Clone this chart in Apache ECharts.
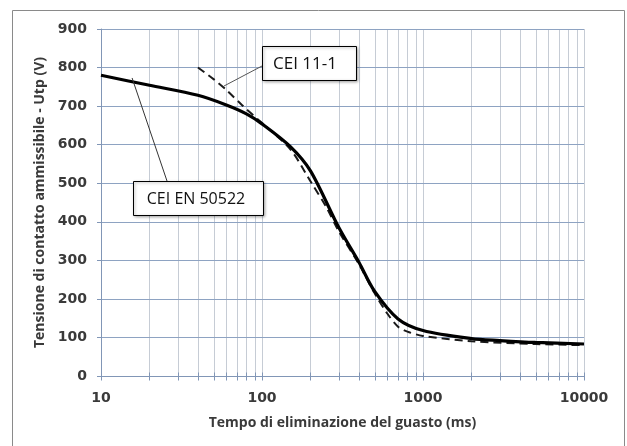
<!DOCTYPE html>
<html>
<head>
<meta charset="utf-8">
<script src="https://cdn.jsdelivr.net/npm/echarts@6/dist/echarts.min.js"></script>
<style>
html,body{margin:0;padding:0;background:#fff;}
#chart{width:627px;height:446px;}
</style>
</head>
<body>
<div id="chart"></div>
<script>
// ---- data ----
const timesEN = [10, 20, 40, 60, 80, 100, 150, 200, 300, 400, 500, 700, 1000, 2000, 3000, 5000, 10000];
const valuesEN = [780, 754, 728, 703, 680, 654, 595, 532, 385, 295, 220, 148, 118, 97, 92, 87, 83];
const timesCEI = [40, 50, 60, 75, 100, 150, 200, 250, 300, 400, 500, 600, 700, 800, 1000, 2000, 5000, 10000];
const valuesCEI = [800, 770, 742, 703, 656, 588, 505, 439, 375, 290, 215, 162, 128, 115, 104, 90, 83, 80];
const xTicks = [10,20,30,40,50,60,70,80,90,100,200,300,400,500,600,700,800,900,1000,2000,3000,4000,5000,6000,7000,8000,9000,10000];
const yTicks = [0,100,200,300,400,500,600,700,800,900];
const nameEN = 'CEI EN 50522';
const nameCEI = 'CEI 11-1';
const xTitle = 'Tempo di eliminazione del guasto (ms)';
const yTitle = 'Tensione di contatto ammissibile - Utp (V)';
// callout anchor points on curves (data coords)
const anchorEN = [15.6, 773];
const anchorCEI = [58, 752];

const chart = echarts.init(document.getElementById('chart'), null, {renderer:'canvas'});
const txt = '#3a3a3a';
const axisBlue = '#8196b6';
const option = {
  animation: false,
  grid: {left: 101, right: 43, top: 29, bottom: 70, containLabel: false},
  xAxis: {
    type: 'log', logBase: 10, min: 10, max: 10000,
    name: xTitle, nameLocation: 'middle', nameGap: 40,
    nameTextStyle: {fontFamily: 'Open Sans', fontWeight: 'bold', fontSize: 14, color: txt},
    axisLine: {show: true, onZero: false, lineStyle: {color: axisBlue, width: 1}},
    axisTick: {show: false},
    splitLine: {show: false},
    axisLabel: {fontFamily: 'DejaVu Sans', fontWeight: 'bold', fontSize: 14, color: txt, margin: 15,
      formatter: v => String(v)}
  },
  yAxis: {
    type: 'value', min: 0, max: 900, interval: 100,
    name: yTitle, nameLocation: 'middle', nameGap: 49,
    nameTextStyle: {fontFamily: 'Open Sans', fontWeight: 'bold', fontSize: 14, color: txt},
    axisLine: {show: true, lineStyle: {color: axisBlue, width: 1}},
    axisTick: {show: true, length: 4, lineStyle: {color: axisBlue}},
    splitLine: {show: true, lineStyle: {color: '#8ea3c2', width: 1}},
    axisLabel: {fontFamily: 'DejaVu Sans', fontWeight: 'bold', fontSize: 14, color: txt, margin: 14,
      formatter: v => yTicks.indexOf(v) >= 0 ? String(v) : ''}
  },
  series: [
    {
      type: 'custom', z: -1, silent: true, clip: false,
      data: xTicks.map(v => [v, 0]),
      renderItem: function (params, api) {
        const p0 = api.coord([api.value(0), 0]);
        const p1 = api.coord([api.value(0), 900]);
        const x = Math.round(p0[0]) + 0.5;
        const y0 = Math.round(p0[1]) + 0.5;
        return {type: 'group', children: [
          {type: 'line', shape: {x1: x, y1: Math.round(p1[1]), x2: x, y2: y0}, style: {stroke: '#c6ccd5', lineWidth: 1}},
          {type: 'line', shape: {x1: x, y1: y0 - 4, x2: x, y2: y0 + 4}, style: {stroke: axisBlue, lineWidth: 1}}
        ]};
      }
    },
    {
      name: nameCEI, type: 'line', smooth: 0.3, showSymbol: false, symbol: 'none', z: 3,
      data: timesCEI.map((t, i) => [t, valuesCEI[i]]),
      lineStyle: {color: '#1a1a1a', width: 2, type: [8, 5]}
    },
    {
      name: nameEN, type: 'line', smooth: 0.3, showSymbol: false, symbol: 'none', z: 4,
      data: timesEN.map((t, i) => [t, valuesEN[i]]),
      lineStyle: {color: '#000', width: 3.2}
    }
  ]
};
chart.setOption(option);

const aEN = chart.convertToPixel({gridIndex: 0}, anchorEN);
const aCEI = chart.convertToPixel({gridIndex: 0}, anchorCEI);
const boxShadow = {shadowBlur: 3, shadowColor: 'rgba(0,0,0,0.35)', shadowOffsetX: 1, shadowOffsetY: 1};
chart.setOption({
  graphic: [
    {type: 'rect', silent: true, z: -10, shape: {x: 12.5, y: 10.5, width: 612, height: 470},
     style: {fill: 'none', stroke: '#8a8a8a', lineWidth: 1}},
    {type: 'line', z: 10, shape: {x1: 167, y1: 181, x2: aEN[0], y2: aEN[1]}, style: {stroke: '#333', lineWidth: 1}},
    {type: 'line', z: 10, shape: {x1: 262, y1: 66, x2: aCEI[0], y2: aCEI[1]}, style: {stroke: '#555', lineWidth: 1}},
    {type: 'rect', z: 11, shape: {x: 133.5, y: 181.5, width: 130, height: 34},
     style: Object.assign({fill: '#fff', stroke: '#000', lineWidth: 1}, boxShadow)},
    {type: 'text', z: 12, x: 196, y: 199, style: {text: nameEN, fontFamily: 'Open Sans', fontSize: 16, fill: '#111', align: 'center', verticalAlign: 'middle'}},
    {type: 'rect', z: 11, shape: {x: 262.5, y: 46.5, width: 94, height: 34},
     style: Object.assign({fill: '#fff', stroke: '#000', lineWidth: 1}, boxShadow)},
    {type: 'text', z: 12, x: 305, y: 64, style: {text: nameCEI, fontFamily: 'Open Sans', fontSize: 17, fill: '#111', align: 'center', verticalAlign: 'middle'}}
  ]
});
</script>
</body>
</html>
